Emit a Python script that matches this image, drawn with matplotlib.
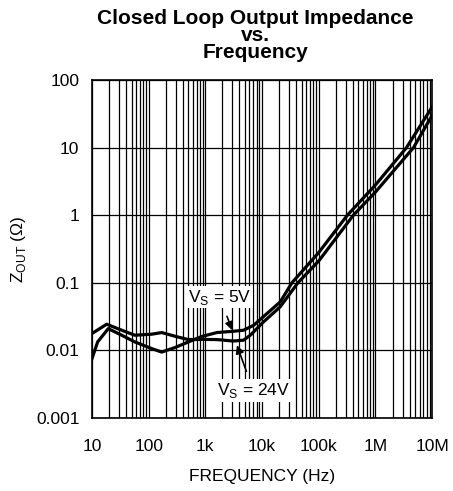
import numpy as np
import matplotlib.pyplot as plt
from matplotlib.ticker import LogLocator, NullLocator

plt.rcParams['font.family'] = ['Liberation Sans', 'DejaVu Sans']
plt.rcParams['mathtext.fontset'] = 'custom'
plt.rcParams['mathtext.rm'] = 'Liberation Sans'

# Vs = 5V
f_5v = np.array([10, 12.6, 19.4, 33.5, 57, 113, 170, 293, 502, 865, 1600, 3100, 4700,
                 7100, 12200, 20900, 33700, 100000, 320000, 1000000, 3530000, 10000000])
z_5v = np.array([0.0075, 0.0133, 0.0209, 0.0167, 0.0133, 0.0106, 0.0094, 0.0110, 0.0133,
                 0.0160, 0.0183, 0.0191, 0.0198, 0.0234, 0.035, 0.052, 0.1, 0.28, 1.0,
                 2.8, 10.0, 40.0])

# Vs = 24V
f_24v = np.array([10, 18.2, 33.5, 57, 113, 170, 293, 502, 865, 1600, 3100, 4700, 6200,
                  10600, 20900, 43000, 100000, 408000, 1000000, 4690000, 10000000])
z_24v = np.array([0.0177, 0.0243, 0.0198, 0.0167, 0.0173, 0.0183, 0.0161, 0.0144, 0.0145,
                  0.0144, 0.0137, 0.0141, 0.0167, 0.0263, 0.044, 0.1, 0.21, 1.0, 2.2,
                  10.0, 30.0])

xticks = [10, 100, 1e3, 1e4, 1e5, 1e6, 1e7]
xtick_labels = ['10', '100', '1k', '10k', '100k', '1M', '10M']
yticks = [0.001, 0.01, 0.1, 1, 10, 100]
ytick_labels = ['0.001', '0.01', '0.1', '1', '10', '100']

fig = plt.figure(figsize=(4.53, 4.91), dpi=100)
ax = fig.add_axes([0.203, 0.149, 0.751, 0.688])

ax.plot(f_5v, z_5v, color='black', lw=2.3, solid_joinstyle='round')
ax.plot(f_24v, z_24v, color='black', lw=2.3, solid_joinstyle='round')

ax.set_xscale('log')
ax.set_yscale('log')
ax.set_xlim(10, 1e7)
ax.set_ylim(0.001, 100)
ax.set_xticks(xticks)
ax.set_xticklabels(xtick_labels)
ax.xaxis.set_minor_locator(LogLocator(base=10, subs=np.arange(2, 10), numticks=30))
ax.set_yticks(yticks)
ax.set_yticklabels(ytick_labels)
ax.yaxis.set_minor_locator(NullLocator())
ax.tick_params(axis='both', which='both', length=0, labelsize=12.5)
ax.tick_params(axis='x', pad=15)
ax.tick_params(axis='y', pad=9)

ax.grid(True, which='major', axis='both', color='black', lw=0.9)
ax.grid(True, which='minor', axis='x', color='black', lw=0.9)
for s in ax.spines.values():
    s.set_linewidth(1.2)

ax.set_xlabel('FREQUENCY (Hz)', fontsize=12.5, labelpad=11)
ax.set_ylabel(r'Z$_\mathregular{OUT}$ ($\Omega$)', fontsize=12.5, labelpad=6)
ax.set_title('Closed Loop Output Impedance\nvs.\nFrequency', fontsize=15,
             fontweight='bold', linespacing=0.86, pad=16, x=0.48)

ax.annotate(r'V$_\mathregular{S}$ = 5V', xy=(2970, 0.0198), xytext=(1800, 0.061),
            fontsize=12.5, ha='center', va='center',
            bbox=dict(boxstyle='square,pad=0.1', fc='white', ec='none'),
            arrowprops=dict(arrowstyle='-|>', color='black', lw=1.2,
                            mutation_scale=12, shrinkA=6, shrinkB=0))
ax.annotate(r'V$_\mathregular{S}$ = 24V', xy=(3600, 0.0119), xytext=(7000, 0.00255),
            fontsize=12.5, ha='center', va='center',
            bbox=dict(boxstyle='square,pad=0.1', fc='white', ec='none'),
            arrowprops=dict(arrowstyle='-|>', color='black', lw=1.2,
                            mutation_scale=12, shrinkA=6, shrinkB=0))

fig.savefig('out.png', dpi=100)
